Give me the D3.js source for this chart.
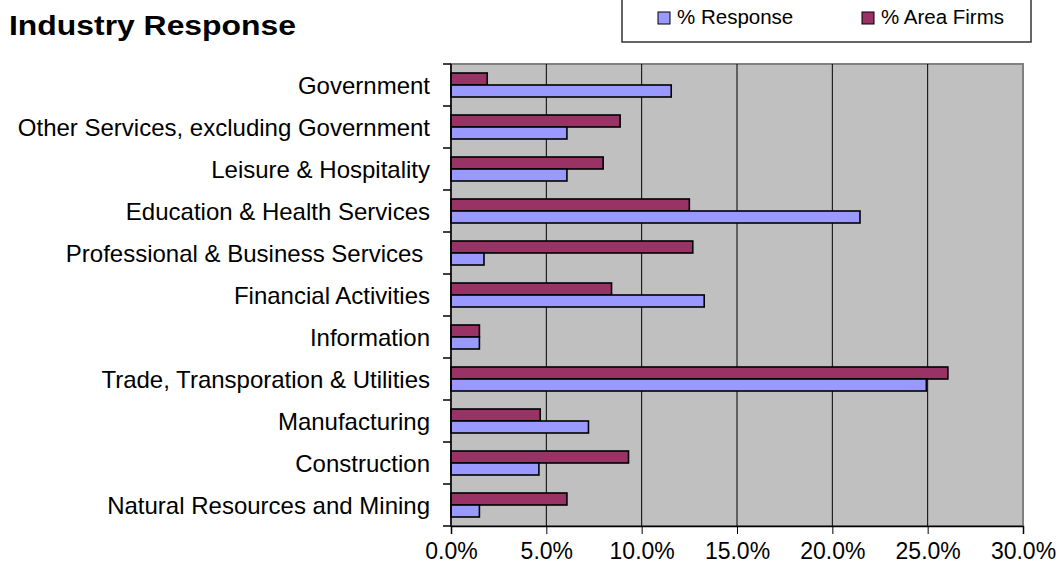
<!DOCTYPE html>
<html>
<head>
<meta charset="utf-8">
<script src="https://cdn.jsdelivr.net/npm/d3@7"></script>
<style>
	body { margin: 0; background: #fff; }
	svg { display: block; font-family: "Liberation Sans", Arial, sans-serif; }
</style>
</head>
<body>
<div id="chart"></div>
<script>
// categories top to bottom, as they read on the chart
const categories = [
	"Government",
	"Other Services, excluding Government",
	"Leisure & Hospitality",
	"Education & Health Services",
	"Professional & Business Services ",
	"Financial Activities",
	"Information",
	"Trade, Transporation & Utilities",
	"Manufacturing",
	"Construction",
	"Natural Resources and Mining",
];
const responsePct = [11.55, 6.08, 6.08, 21.45, 1.73, 13.28, 1.49, 24.93, 7.21, 4.61, 1.49];
const areaFirmsPct = [1.9, 8.87, 7.98, 12.5, 12.68, 8.42, 1.49, 26.06, 4.68, 9.31, 6.08];
const seriesNames = ["% Area Firms", "% Response"];
const seriesColors = ["#993366", "#9999FF"];
const xTicks = [0, 5, 10, 15, 20, 25, 30];

const width = 1062;
const height = 571;
const plot = { left: 451, right: 1023, top: 64, bottom: 526 };

const rows = categories.map((c, i) => ({
	category: c,
	values: [areaFirmsPct[i], responsePct[i]],
}));

const svg = d3
	.select("#chart")
	.append("svg")
	.attr("width", width)
	.attr("height", height);

const x = d3.scaleLinear().domain([0, 30]).range([plot.left, plot.right]);
const y = d3
	.scaleBand()
	.domain(categories)
	.range([plot.top, plot.bottom])
	.padding(0);
const inner = d3
	.scaleBand()
	.domain(seriesNames)
	.range([0, y.bandwidth()])
	.paddingInner(0)
	.paddingOuter(0.75);

// plot background
svg
	.append("rect")
	.attr("x", plot.left)
	.attr("y", plot.top)
	.attr("width", plot.right - plot.left)
	.attr("height", plot.bottom - plot.top)
	.attr("fill", "#C0C0C0")
	.attr("stroke", "#808080")
	.attr("stroke-width", 2);

// vertical gridlines
svg
	.append("g")
	.selectAll("line")
	.data(xTicks.slice(1, -1))
	.enter()
	.append("line")
	.attr("x1", (d) => x(d))
	.attr("x2", (d) => x(d))
	.attr("y1", plot.top)
	.attr("y2", plot.bottom)
	.attr("stroke", "#000")
	.attr("stroke-width", 1);

// bars
const groups = svg
	.append("g")
	.selectAll("g")
	.data(rows)
	.enter()
	.append("g")
	.attr("transform", (d) => `translate(0,${y(d.category)})`);

groups
	.selectAll("rect")
	.data((d) => d.values.map((v, i) => ({ series: seriesNames[i], value: v, idx: i })))
	.enter()
	.append("rect")
	.attr("x", x(0))
	.attr("y", (d) => inner(d.series))
	.attr("width", (d) => x(d.value) - x(0))
	.attr("height", inner.bandwidth())
	.attr("fill", (d) => seriesColors[d.idx])
	.attr("stroke", "#000")
	.attr("stroke-width", 1.6);

// y axis: labels centred on bands, ticks on band boundaries
const yAxis = svg
	.append("g")
	.attr("transform", `translate(${plot.left},0)`)
	.call(d3.axisLeft(y).tickSize(0).tickPadding(21));
yAxis.select(".domain").remove();
yAxis
	.selectAll("text")
	.attr("fill", "#000")
	.attr("dy", "0.36em")
	.style("font-size", "24px")
	.style("white-space", "pre");

const boundaries = categories.map((c) => y(c)).concat([plot.bottom]);
svg
	.append("g")
	.selectAll("line")
	.data(boundaries)
	.enter()
	.append("line")
	.attr("x1", plot.left - 8)
	.attr("x2", plot.left)
	.attr("y1", (d) => d)
	.attr("y2", (d) => d)
	.attr("stroke", "#000")
	.attr("stroke-width", 1.5);

svg
	.append("line")
	.attr("x1", plot.left)
	.attr("x2", plot.left)
	.attr("y1", plot.top)
	.attr("y2", plot.bottom)
	.attr("stroke", "#000")
	.attr("stroke-width", 1.5);

// x axis
const xAxis = svg
	.append("g")
	.attr("transform", `translate(0,${plot.bottom})`)
	.call(
		d3
			.axisBottom(x)
			.tickValues(xTicks)
			.tickSize(8)
			.tickPadding(9)
			.tickFormat((d) => d.toFixed(1) + "%")
	);
xAxis.select(".domain").attr("stroke", "#000").attr("stroke-width", 1.5);
xAxis.selectAll(".tick line").attr("stroke", "#000");
xAxis.selectAll("text").attr("fill", "#000").style("font-size", "23px");

// title
svg
	.append("text")
	.attr("x", 9)
	.attr("y", 35)
	.attr("textLength", 287)
	.attr("lengthAdjust", "spacingAndGlyphs")
	.style("font-size", "27px")
	.style("font-weight", "bold")
	.text("Industry Response");

// legend
const legend = svg.append("g");
legend
	.append("rect")
	.attr("x", 622)
	.attr("y", -10)
	.attr("width", 409)
	.attr("height", 52)
	.attr("fill", "#fff")
	.attr("stroke", "#333")
	.attr("stroke-width", 1.5);

const legendItems = [
	{ name: seriesNames[1], color: seriesColors[1], x: 658 },
	{ name: seriesNames[0], color: seriesColors[0], x: 862 },
];
const item = legend
	.selectAll("g.item")
	.data(legendItems)
	.enter()
	.append("g")
	.attr("class", "item")
	.attr("transform", (d) => `translate(${d.x},0)`);
item
	.append("rect")
	.attr("x", 0)
	.attr("y", 12)
	.attr("width", 12)
	.attr("height", 12)
	.attr("fill", (d) => d.color)
	.attr("stroke", "#000")
	.attr("stroke-width", 1);
item
	.append("text")
	.attr("x", 19)
	.attr("y", 24)
	.style("font-size", "20.5px")
	.text((d) => d.name);
</script>
</body>
</html>
